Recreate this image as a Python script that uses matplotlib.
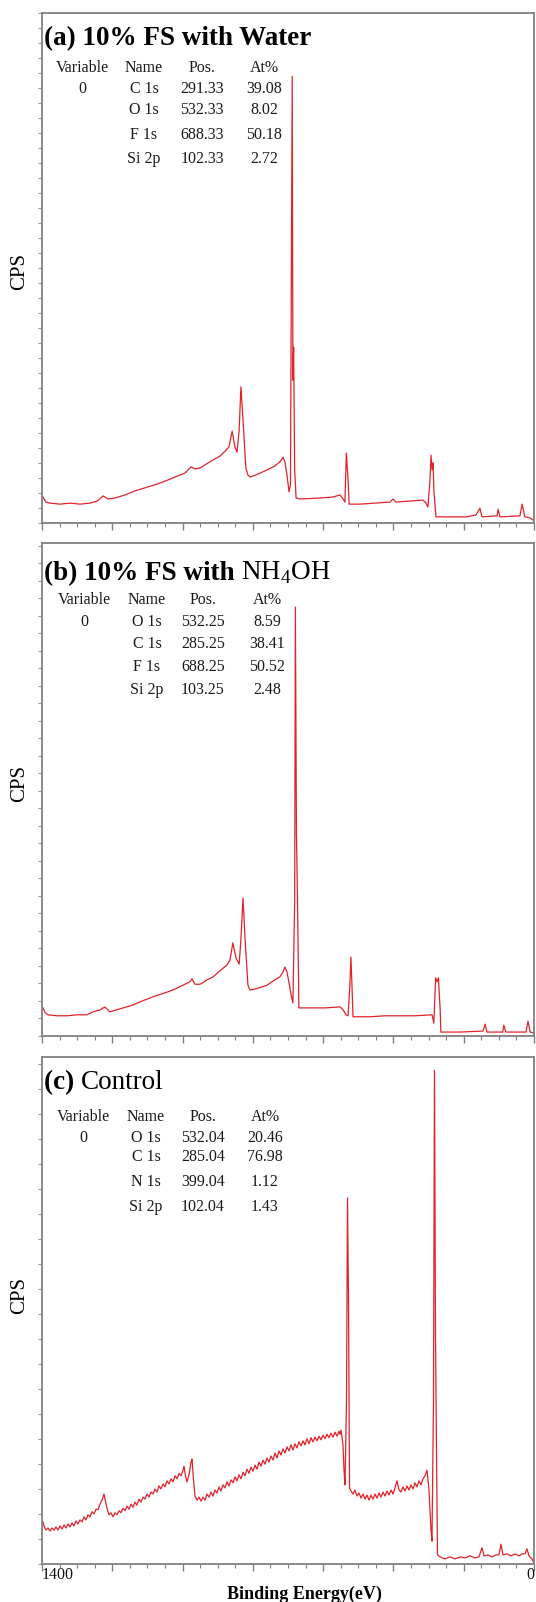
import matplotlib
matplotlib.use("Agg")
import matplotlib.pyplot as plt
from matplotlib.ticker import MultipleLocator

plt.rcParams['font.family'] = ['Liberation Serif', 'DejaVu Serif']
plt.rcParams['mathtext.fontset'] = 'custom'
plt.rcParams['mathtext.rm'] = 'Liberation Serif'

# ---- spectra (binding energy in eV, CPS in % of axis) ----
be_a = [1397, 1389, 1377, 1349, 1320, 1292, 1263, 1243, 1226, 1212, 1192, 1164, 1135, 1107, 1078,
        1050, 1022, 993, 982, 976, 965, 950, 922, 894, 876, 868, 859, 851, 845, 839, 834, 828, 820,
        814, 808, 785, 760, 737, 723, 714, 709, 703, 697, 693, 688, 686, 684, 681, 677, 666, 609,
        572, 552, 543, 538, 534, 529, 526, 495, 452, 410, 401, 393, 353, 316, 307, 302, 296, 293,
        290, 287, 285, 279, 239, 191, 165, 157, 154, 148, 105, 102, 97, 40, 37, 34, 30, 26, 11, 3]
cps_a = [5.1, 4.1, 3.9, 3.7, 3.9, 3.7, 3.9, 4.3, 5.3, 4.7, 4.9, 5.5, 6.3, 6.9, 7.5,
         8.2, 9.0, 9.8, 10.6, 11.0, 10.6, 10.8, 12.0, 13.1, 14.3, 14.9, 18.0, 14.9, 13.9, 18.2, 26.7, 20.2, 10.8,
         9.4, 9.0, 9.6, 10.4, 11.2, 12.0, 12.9, 12.0, 9.4, 6.1, 7.5, 87.6, 28.0, 34.5, 10.4, 4.9, 4.7, 4.9,
         5.1, 5.5, 4.7, 4.1, 13.7, 8.4, 3.7, 3.7, 3.9, 4.1, 4.7, 4.1, 4.3, 4.5, 3.9, 3.1, 8.4, 13.3,
         10.4, 11.8, 6.5, 1.2, 1.2, 1.2, 1.6, 2.5, 2.9, 1.2, 1.4, 2.7, 1.2, 1.4, 2.5, 3.7, 2.5, 1.2, 1.0, 0.6]

be_b = [1397, 1391, 1383, 1357, 1329, 1300, 1272, 1255, 1235, 1221, 1207, 1178, 1141, 1115, 1093,
        1070, 1044, 1022, 999, 979, 973, 965, 950, 930, 913, 894, 874, 865, 857, 848, 839, 834, 828,
        822, 814, 808, 785, 760, 737, 723, 714, 709, 703, 697, 691, 686, 681, 679, 676, 673, 669,
        637, 595, 552, 543, 535, 529, 524, 521, 518, 515, 467, 424, 381, 339, 290, 285, 280, 276,
        272, 267, 265, 211, 145, 139, 134, 89, 86, 80, 23, 17, 11, 0]
cps_b = [5.7, 4.7, 4.3, 4.1, 4.1, 4.3, 4.3, 4.9, 5.3, 5.9, 4.9, 5.5, 6.3, 7.1, 7.7,
         8.3, 8.9, 9.5, 10.3, 11.0, 11.6, 10.5, 10.5, 11.4, 12.0, 13.2, 14.4, 15.4, 18.9, 15.8, 14.6, 19.5, 28.0,
         19.5, 10.3, 9.3, 9.7, 10.3, 11.4, 12.0, 13.0, 14.0, 13.0, 10.8, 8.3, 6.7, 27.6, 87.0, 41.2, 27.6, 5.7,
         5.7, 5.7, 5.9, 5.3, 4.3, 4.1, 10.3, 16.0, 10.3, 3.9, 3.9, 4.1, 4.1, 4.1, 4.3, 2.6, 11.8, 11.0,
         11.8, 5.3, 0.8, 0.8, 1.0, 2.4, 0.8, 0.8, 2.2, 0.8, 0.8, 3.0, 0.8, 0.6]

be_c = [1397.2, 1394.3, 1388.6, 1382.9, 1377.2, 1371.5, 1365.9, 1360.2, 1354.5, 1348.8, 1343.1, 1337.4,
        1331.7, 1326.0, 1320.3, 1314.6, 1308.9, 1303.3, 1297.6, 1291.9, 1286.2, 1280.5, 1274.8, 1269.1,
        1263.4, 1257.7, 1252.0, 1246.3, 1240.7, 1235.0, 1229.3, 1223.6, 1220.7, 1215.0, 1209.4, 1203.7,
        1198.0, 1192.3, 1186.6, 1180.9, 1175.2, 1169.5, 1163.8, 1158.1, 1152.4, 1146.8, 1141.1, 1135.4,
        1129.7, 1124.0, 1118.3, 1112.6, 1106.9, 1101.2, 1095.5, 1089.8, 1084.2, 1078.5, 1072.8, 1067.1,
        1061.4, 1055.7, 1050.0, 1044.3, 1038.6, 1032.9, 1027.2, 1021.5, 1015.9, 1010.2, 1004.5, 998.8,
        995.9, 991.7, 987.4, 981.7, 976.0, 973.2, 968.9, 964.6, 958.9, 953.3, 947.6, 941.9, 936.2, 930.5,
        924.8, 919.1, 913.4, 907.7, 902.0, 896.3, 890.7, 885.0, 879.3, 873.6, 867.9, 862.2, 856.5, 850.8,
        845.1, 839.4, 833.7, 828.1, 822.4, 816.7, 811.0, 805.3, 799.6, 793.9, 788.2, 782.5, 776.8, 771.1,
        765.5, 759.8, 754.1, 748.4, 742.7, 737.0, 731.3, 725.6, 719.9, 714.2, 708.5, 702.9, 697.2, 691.5,
        685.8, 680.1, 674.4, 668.7, 663.0, 657.3, 651.6, 646.0, 640.3, 634.6, 628.9, 623.2, 617.5, 611.8,
        606.1, 600.4, 594.7, 589.0, 583.4, 577.7, 572.0, 566.3, 560.6, 554.9, 552.0, 549.2, 543.5, 540.6,
        537.8, 533.5, 530.7, 527.8, 525.0, 520.7, 515.0, 509.4, 503.7, 498.0, 492.3, 486.6, 480.9, 475.2,
        469.5, 463.8, 458.1, 452.5, 446.8, 441.1, 435.4, 429.7, 424.0, 418.3, 412.6, 406.9, 401.2, 395.5,
        389.8, 384.2, 378.5, 372.8, 367.1, 361.4, 355.7, 350.0, 344.3, 338.6, 332.9, 327.2, 321.6, 315.9,
        310.2, 304.5, 298.8, 293.1, 290.3, 286.0, 283.2, 280.3, 277.5, 274.6, 267.5, 253.2, 239.0, 224.8,
        210.6, 196.4, 182.1, 167.9, 156.5, 148.0, 142.3, 130.9, 119.5, 108.1, 99.6, 93.9, 88.2, 76.8,
        65.5, 54.1, 42.7, 34.1, 25.6, 20.0, 14.3, 5.8, 0.1]
cps_c = [8.3, 7.5, 6.7, 7.1, 6.5, 7.1, 6.7, 7.3, 6.7, 7.5, 6.9, 7.7,
         7.1, 7.9, 7.3, 8.1, 7.5, 8.5, 7.9, 8.7, 8.3, 9.3, 8.7, 9.7,
         9.3, 10.3, 9.9, 10.8, 10.7, 11.8, 12.6, 13.8, 12.8, 11.0, 9.7, 10.1,
         9.3, 10.1, 9.7, 10.5, 10.1, 11.0, 10.5, 11.4, 10.8, 11.8, 11.2, 12.2,
         11.6, 12.8, 12.2, 13.2, 12.8, 13.8, 13.2, 14.2, 13.8, 14.8, 14.2, 15.4,
         14.8, 15.8, 15.2, 16.4, 15.8, 16.8, 16.2, 17.4, 16.8, 17.9, 17.4, 18.5,
         19.3, 17.4, 16.2, 17.6, 20.1, 20.7, 16.6, 13.4, 12.6, 13.2, 12.4, 13.2, 12.6, 13.8,
         13.2, 14.2, 13.4, 14.6, 14.0, 15.2, 14.4, 15.6, 15.0, 16.2, 15.4, 16.6, 16.0, 17.2,
         16.4, 17.6, 16.8, 18.1, 17.4, 18.7, 17.9, 19.1, 18.3, 19.5, 18.7, 20.1, 19.3, 20.5,
         19.7, 20.9, 20.1, 21.3, 20.5, 21.9, 20.9, 22.3, 21.5, 22.7, 21.9, 23.1, 22.3, 23.5,
         22.5, 23.7, 22.9, 24.1, 23.3, 24.3, 23.5, 24.7, 23.7, 24.9, 24.1, 25.0, 24.3, 25.2,
         24.5, 25.4, 24.7, 25.6, 24.9, 25.8, 25.0, 26.0, 25.2, 26.2, 25.6, 26.4, 23.5, 18.5,
         15.6, 32.3, 72.2, 52.1, 15.0, 14.4, 13.8, 14.6, 13.4, 14.0, 13.0, 13.8, 12.8, 13.6,
         12.6, 13.6, 12.8, 13.8, 13.0, 14.0, 13.2, 14.2, 13.4, 14.4, 13.6, 14.6, 13.8, 15.0,
         16.4, 14.6, 14.2, 15.2, 14.4, 15.4, 14.6, 15.6, 14.8, 16.0, 15.2, 16.4, 15.6, 16.8,
         17.4, 18.5, 14.6, 6.7, 4.5, 32.3, 97.4, 45.0, 22.5, 1.8, 1.4, 1.0, 1.4, 1.0,
         1.4, 1.2, 1.6, 1.2, 1.4, 3.2, 1.6, 1.8, 1.4, 1.8, 1.8, 3.9, 1.8, 2.0,
         1.6, 2.0, 1.6, 2.0, 2.0, 3.0, 1.6, 1.0, 0.2]

# ---- quantification tables ----
titles = [("(a) 10% FS with Water", ""),
          ("(b) 10% FS with ", r"NH$_\mathregular{4}$OH"),
          ("(c) ", "Control")]
headers = ["Variable", "Name", "Pos.", "At%"]
names_a = ["C 1s", "O 1s", "F 1s", "Si 2p"]
pos_a = [291.33, 532.33, 688.33, 102.33]
at_a = [39.08, 8.02, 50.18, 2.72]
names_b = ["O 1s", "C 1s", "F 1s", "Si 2p"]
pos_b = [532.25, 285.25, 688.25, 103.25]
at_b = [8.59, 38.41, 50.52, 2.48]
names_c = ["O 1s", "C 1s", "N 1s", "Si 2p"]
pos_c = [532.04, 285.04, 399.04, 102.04]
at_c = [20.46, 76.98, 1.12, 1.43]

W, H = 536, 1602
RED = '#e0232b'
GREY = '#808080'
TXT = '#1a1a1a'


def fx(x):
    return x / W


def fy(y):
    return 1 - y / H


fig = plt.figure(figsize=(W / 100, H / 100), dpi=100)
renderer = fig.canvas.get_renderer()

# layout of each panel in pixels: top, bottom, y tick step, title baseline, table rows, columns, CPS y
panels = [
    dict(top=13, bottom=523, step=2.94, tb=45, rows=[68, 89, 110, 135, 159],
         cols=[82, 144, 202, 264], cps=272),
    dict(top=543, bottom=1036, step=3.55, tb=580, rows=[600, 622, 644, 667, 690],
         cols=[84, 147, 203, 267], cps=783),
    dict(top=1057, bottom=1564, step=4.93, tb=1089, rows=[1117, 1138, 1157, 1182, 1207],
         cols=[83, 146, 203, 265], cps=1295),
]
spectra = [(be_a, cps_a), (be_b, cps_b), (be_c, cps_c)]
tables = [(names_a, pos_a, at_a), (names_b, pos_b, at_b), (names_c, pos_c, at_c)]

for i, p in enumerate(panels):
    ax = fig.add_axes([fx(42), fy(p['bottom']), (534 - 42) / W, (p['bottom'] - p['top']) / H])
    be, cps = spectra[i]
    ax.plot(be, cps, color=RED, lw=0.9)
    ax.set_xlim(1400, 0)
    ax.set_ylim(0, 100)
    ax.xaxis.set_major_locator(MultipleLocator(200))
    ax.xaxis.set_minor_locator(MultipleLocator(50))
    ax.yaxis.set_major_locator(MultipleLocator(p['step']))
    ax.tick_params(axis='x', which='major', direction='out', length=5, width=1, color=GREY,
                   labelbottom=False)
    ax.tick_params(axis='x', which='minor', direction='out', length=3, width=0.8, color=GREY)
    ax.tick_params(axis='y', which='major', direction='out', length=3, width=0.8, color='#999999',
                   labelleft=False)
    for sp in ax.spines.values():
        sp.set_color(GREY)
        sp.set_linewidth(1.3)

    if i == 2:
        ax.set_xticks(range(0, 1401, 200))
        ax.set_xticklabels(['0', '', '', '', '', '', '', '1400'])
        ax.tick_params(axis='x', which='major', labelbottom=True, pad=-3, labelsize=11.5,
                       labelcolor='#111111')
        labs = ax.get_xticklabels()
        labs[0].set_ha('right')
        labs[-1].set_ha('left')

    # title (bold part then plain part)
    bold, plain = titles[i]
    t1 = fig.text(fx(44), fy(p['tb']), bold, fontsize=19.5, fontweight='bold', va='baseline')
    if plain:
        bb = t1.get_window_extent(renderer)
        fig.text(bb.x1 / W, fy(p['tb']), plain, fontsize=19.5, va='baseline')

    # table
    cols = p['cols']
    rows = p['rows']
    for c, h in enumerate(headers):
        fig.text(fx(cols[c]), fy(rows[0]), h, fontsize=11.5, ha='center', va='center', color=TXT)
    names, pos, at = tables[i]
    fig.text(fx(cols[0]), fy(rows[1]), "0", fontsize=11.5, ha='center', va='center', color=TXT)
    for r in range(len(names)):
        y = fy(rows[r + 1])
        fig.text(fx(cols[1]), y, names[r], fontsize=11.5, ha='center', va='center', color=TXT)
        fig.text(fx(cols[2]), y, f"{pos[r]:.2f}", fontsize=11.5, ha='center', va='center', color=TXT)
        fig.text(fx(cols[3]), y, f"{at[r]:.2f}", fontsize=11.5, ha='center', va='center', color=TXT)

    fig.text(fx(20), fy(p['cps']), "CPS", fontsize=15, rotation=90, ha='center', va='center')

fig.text(fx(304), fy(1594), "Binding Energy(eV)", fontsize=13, fontweight='bold',
         ha='center', va='center')

fig.savefig("out.png", dpi=100)
